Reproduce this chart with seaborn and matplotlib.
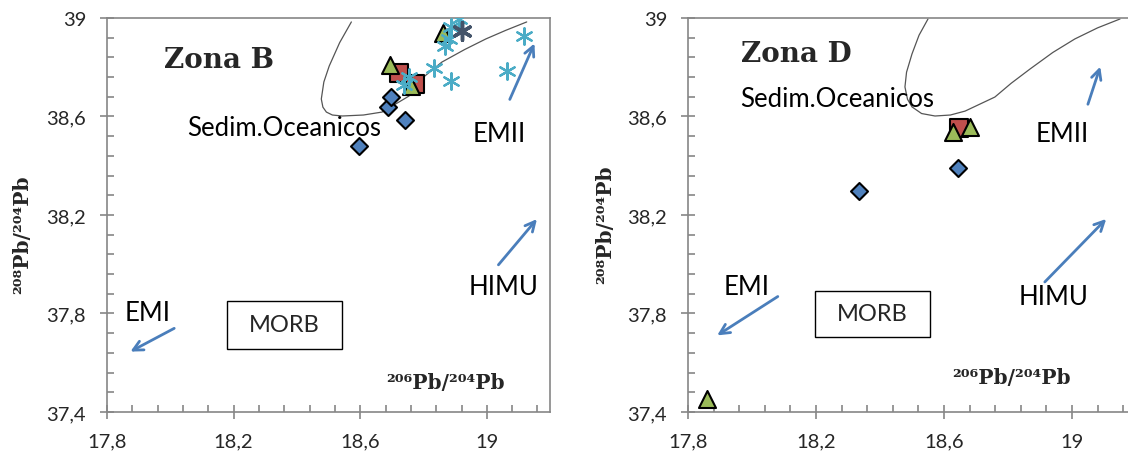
import matplotlib
matplotlib.use("Agg")
import matplotlib.pyplot as plt
import matplotlib.ticker as mticker
from matplotlib.patches import Rectangle
import seaborn as sns
import numpy as np

# ---- axis ticks ----
x_ticks = [17.8, 18.2, 18.6, 19.0]
y_ticks = [37.4, 37.8, 38.2, 38.6, 39.0]

# ---- data: Zona B ----
b_diam_x = [18.597, 18.742, 18.688, 18.698]
b_diam_y = [38.480, 38.586, 38.639, 38.679]
b_tri_x = [18.694, 18.761, 18.861]
b_tri_y = [38.809, 38.724, 38.939]
b_sq_x = [18.723, 18.773]
b_sq_y = [38.777, 38.732]
b_star_x = [18.912, 18.887, 18.880, 18.868, 18.833, 18.887, 18.754, 18.739, 19.063, 19.117]
b_star_y = [38.996, 38.963, 38.915, 38.886, 38.797, 38.744, 38.760, 38.728, 38.785, 38.927]
b_plus_x = [18.921]
b_plus_y = [38.947]
b_sed_x = [18.572, 18.535, 18.502, 18.485, 18.477, 18.482, 18.493, 18.512, 18.543, 18.610,
           18.669, 18.754, 18.800, 18.858, 18.930, 18.997, 19.060, 19.126]
b_sed_y = [38.984, 38.900, 38.805, 38.740, 38.671, 38.638, 38.618, 38.606, 38.602, 38.606,
           38.618, 38.683, 38.760, 38.821, 38.872, 38.915, 38.950, 38.984]

# ---- data: Zona D ----
d_diam_x = [18.334, 18.644]
d_diam_y = [38.297, 38.391]
d_tri_x = [18.628, 18.681, 17.859]
d_tri_y = [38.537, 38.557, 37.453]
d_sq_x = [18.647]
d_sq_y = [38.553]
d_sed_x = [18.550, 18.522, 18.500, 18.483, 18.478, 18.486, 18.500, 18.530, 18.572, 18.620,
           18.666, 18.759, 18.810, 18.869, 18.940, 19.009, 19.080, 19.150]
d_sed_y = [38.996, 38.930, 38.854, 38.780, 38.720, 38.670, 38.639, 38.612, 38.602, 38.606,
           38.622, 38.679, 38.735, 38.793, 38.860, 38.915, 38.960, 38.996]

# reservoir arrows (tail x, tail y, head x, head y)
b_arrows = {"EMII": (19.069, 38.659, 19.154, 38.907),
            "HIMU": (19.031, 37.989, 19.164, 38.192),
            "EMI": (18.020, 37.745, 17.866, 37.640)}
d_arrows = {"EMII": (19.047, 38.639, 19.091, 38.813),
            "HIMU": (18.909, 37.920, 19.113, 38.192),
            "EMI": (18.088, 37.875, 17.884, 37.705)}
b_labels = {"EMII": (19.038, 38.529), "HIMU": (19.054, 37.908), "EMI": (17.929, 37.806),
            "Sedim.Oceanicos": (18.361, 38.557)}
d_labels = {"EMII": (18.969, 38.529), "HIMU": (18.941, 37.867), "EMI": (17.984, 37.908),
            "Sedim.Oceanicos": (18.266, 38.675)}
b_morb = (18.178, 37.656, 18.543, 37.851)
d_morb = (18.197, 37.705, 18.556, 37.891)

BLUE = "#4f81bd"
RED = "#c0504d"
GREEN = "#9bbb59"
CYAN = "#4bacc6"
DARK = "#44546a"
ARROW = "#4a7ebb"
GRAY = "#868686"

sns.set_style("white")
plt.rcParams["font.family"] = ["Lato", "DejaVu Sans"]

fig = plt.figure(figsize=(11.28, 4.6), dpi=100)
ax1 = fig.add_axes([0.0949, 0.1022, 0.3928, 0.8565])
ax2 = fig.add_axes([0.6099, 0.1022, 0.3972, 0.8565])


def comma(v, pos):
    return f"{round(v, 2):g}".replace(".", ",")


def style_axes(ax):
    ax.set_xlim(17.8, 19.2)
    ax.set_ylim(37.4, 39.0)
    ax.xaxis.set_major_locator(mticker.FixedLocator(x_ticks))
    ax.yaxis.set_major_locator(mticker.FixedLocator(y_ticks))
    ax.xaxis.set_minor_locator(mticker.FixedLocator(np.arange(17.8, 19.21, 0.08)))
    ax.yaxis.set_minor_locator(mticker.FixedLocator(np.arange(37.4, 39.01, 0.08)))
    ax.xaxis.set_major_formatter(mticker.FuncFormatter(comma))
    ax.yaxis.set_major_formatter(mticker.FuncFormatter(comma))
    ax.tick_params(which="major", direction="inout", length=10, width=1.2, color=GRAY,
                   labelsize=14.5, pad=10, bottom=True, left=True)
    ax.tick_params(which="minor", direction="in", length=5, width=1.2, color=GRAY,
                   bottom=True, left=True)
    for s in ax.spines.values():
        s.set_color(GRAY)
        s.set_linewidth(1.2)
    ax.set_xlabel("")
    ax.set_ylabel("")


def draw_points(ax, dx, dy, tx, ty, qx, qy):
    sns.scatterplot(x=dx, y=dy, ax=ax, marker="D", s=75, color=BLUE,
                    edgecolor="black", linewidth=1.5, zorder=4)
    sns.scatterplot(x=qx, y=qy, ax=ax, marker="s", s=150, color=RED,
                    edgecolor="black", linewidth=1.5, zorder=4)
    sns.scatterplot(x=tx, y=ty, ax=ax, marker="^", s=150, color=GREEN,
                    edgecolor="black", linewidth=1.5, zorder=5)


def draw_extras(ax, arrows, labels, morb, title, title_xy):
    for k, (x0, y0, x1, y1) in arrows.items():
        ax.annotate("", xy=(x1, y1), xytext=(x0, y0),
                    arrowprops=dict(arrowstyle="->,head_length=0.7,head_width=0.35",
                                    color=ARROW, lw=2))
    for k, (x, y) in labels.items():
        ax.text(x, y, k, ha="center", va="center", fontsize=18.5, color="black")
    x0, y0, x1, y1 = morb
    ax.add_patch(Rectangle((x0, y0), x1 - x0, y1 - y0, fill=False, ec="black", lw=1))
    ax.text((x0 + x1) / 2, (y0 + y1) / 2, "MORB", ha="center", va="center", fontsize=17)
    ax.text(title_xy[0], title_xy[1], title, ha="center", va="center", fontsize=20,
            fontweight="bold", family="DejaVu Serif")


# Zona B
sns.lineplot(x=b_sed_x, y=b_sed_y, ax=ax1, color="#555555", lw=0.9, sort=False, estimator=None)
draw_points(ax1, b_diam_x, b_diam_y, b_tri_x, b_tri_y, b_sq_x, b_sq_y)
sns.scatterplot(x=b_star_x, y=b_star_y, ax=ax1, marker=(6, 2, 0), s=140, color=CYAN,
                linewidth=1.6, zorder=6)
sns.scatterplot(x=b_plus_x, y=b_plus_y, ax=ax1, marker=(6, 2, 0), s=160, color=DARK,
                linewidth=2.5, zorder=6)
draw_extras(ax1, b_arrows, b_labels, b_morb, "Zona B", (18.153, 38.833))
style_axes(ax1)
ax1.text(0.763, 0.076, "²⁰⁶Pb/²⁰⁴Pb", transform=ax1.transAxes, ha="center", va="center",
         fontsize=14.5, fontweight="bold", family="DejaVu Serif")
ax1.text(-0.192, 0.452, "²⁰⁸Pb/²⁰⁴Pb", transform=ax1.transAxes, ha="center", va="center",
         rotation=90, fontsize=14.5, fontweight="bold", family="DejaVu Serif")

# Zona D
sns.lineplot(x=d_sed_x, y=d_sed_y, ax=ax2, color="#555555", lw=0.9, sort=False, estimator=None)
draw_points(ax2, d_diam_x, d_diam_y, d_tri_x, d_tri_y, d_sq_x, d_sq_y)
draw_extras(ax2, d_arrows, d_labels, d_morb, "Zona D", (18.1375, 38.854))
style_axes(ax2)
ax2.text(0.723, 0.089, "²⁰⁶Pb/²⁰⁴Pb", transform=ax2.transAxes, ha="center", va="center",
         fontsize=14.5, fontweight="bold", family="DejaVu Serif")
ax2.text(-0.185, 0.477, "²⁰⁸Pb/²⁰⁴Pb", transform=ax2.transAxes, ha="center", va="center",
         rotation=90, fontsize=14.5, fontweight="bold", family="DejaVu Serif")

fig.savefig("out.png", dpi=100)
